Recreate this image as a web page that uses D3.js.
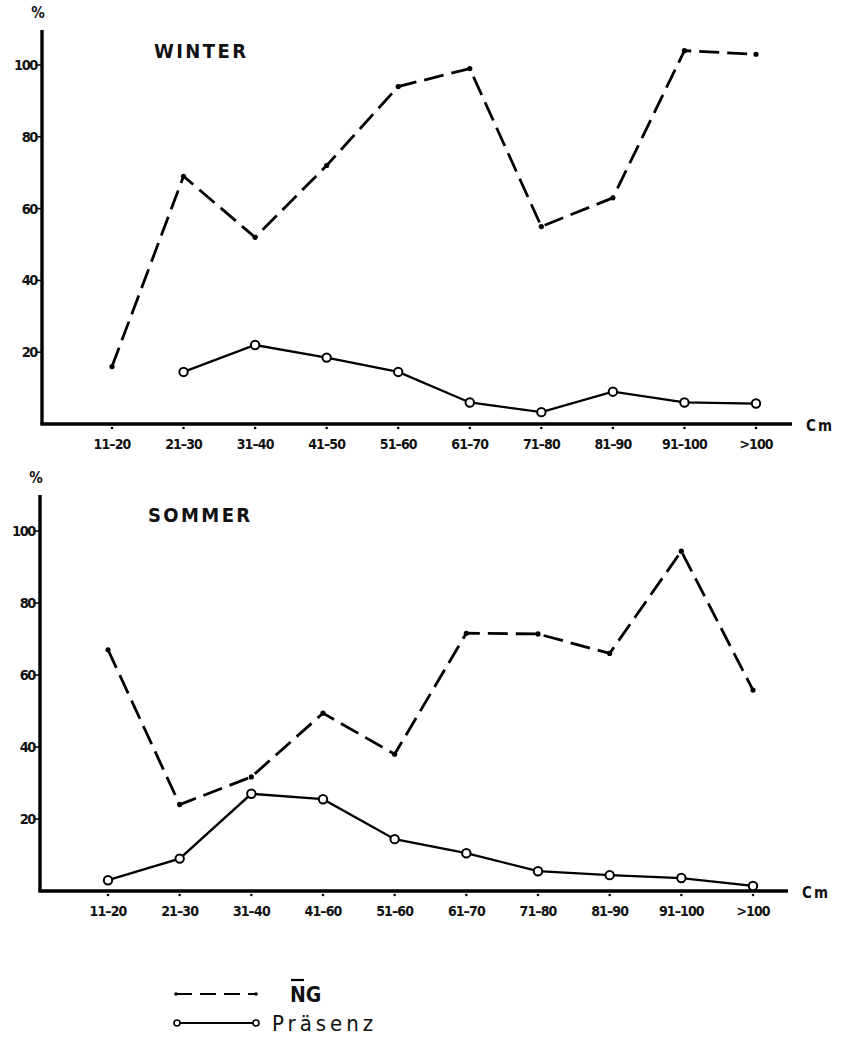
<!DOCTYPE html>
<html>
<head>
<meta charset="utf-8">
<script src="https://d3js.org/d3.v7.min.js"></script>
<style>
  body { margin: 0; background: #fff; }
  text { font-family: "DejaVu Sans Condensed", "DejaVu Sans", sans-serif; fill: #111; }
</style>
</head>
<body>
<svg width="841" height="1048"></svg>
<script>
// Kategorien (Durchmesserklassen)
var categories = ["11–20","21–30","31–40","41–50","51–60","61–70","71–80","81–90","91–100",">100"];
var winterLabels = ["11–20","21–30","31–40","41–50","51–60","61–70","71–80","81–90","91–100",">100"];
var sommerLabels = ["11–20","21–30","31–40","41–60","51–60","61–70","71–80","81–90","91–100",">100"];
var yTicks = [20, 40, 60, 80, 100];

// Werte in %
var winterNG       = [16, 69, 52, 72, 94, 99, 55, 63, 104, 103];
var winterPraesenz = [null, 14.5, 22, 18.5, 14.5, 6, 3.3, 9, 6, 5.7];
var sommerNG       = [67, 24, 31.7, 49.4, 38, 71.6, 71.4, 66, 94.4, 55.8];
var sommerPraesenz = [3, 9, 27, 25.5, 14.4, 10.5, 5.5, 4.4, 3.6, 1.4];

var svg = d3.select("svg");

function panel(cfg) {
  var g = svg.append("g");
  var x = d3.scalePoint().domain(categories).range([cfg.x0, cfg.x1]);
  var y = d3.scaleLinear().domain([0, 100]).range([cfg.yZero, cfg.y100]);

  // y-Achse
  g.append("line").attr("x1", cfg.ax).attr("x2", cfg.ax)
    .attr("y1", cfg.yZero + 1).attr("y2", cfg.yTop)
    .attr("stroke", "#000").attr("stroke-width", 3.4);
  // x-Achse
  g.append("line").attr("x1", cfg.ax - 1.5).attr("x2", cfg.axEnd)
    .attr("y1", cfg.yZero).attr("y2", cfg.yZero)
    .attr("stroke", "#000").attr("stroke-width", 3.4);

  // y ticks
  yTicks.forEach(function(t) {
    g.append("line").attr("x1", cfg.ax - 5).attr("x2", cfg.ax)
      .attr("y1", y(t)).attr("y2", y(t)).attr("stroke", "#000").attr("stroke-width", 1.5);
    g.append("text").attr("x", cfg.ax - 5).attr("y", y(t) + 5)
      .attr("text-anchor", "end").attr("font-size", 14.5).attr("font-weight", "bold")
      .attr("letter-spacing", -1.4).text(t);
  });
  g.append("text").attr("x", cfg.ax - 4).attr("y", cfg.yTop - 12)
    .attr("text-anchor", "middle").attr("font-size", 15).attr("font-weight", "bold").text("%");

  // x ticks und Beschriftung
  categories.forEach(function(c, i) {
    g.append("circle").attr("cx", x(c)).attr("cy", cfg.yZero + 4).attr("r", 1.3).attr("fill", "#000");
    g.append("text").attr("x", x(c)).attr("y", cfg.yZero + 25)
      .attr("text-anchor", "middle").attr("font-size", 14).attr("font-weight", "bold")
      .attr("letter-spacing", -0.9).text(cfg.labels[i]);
  });
  g.append("text").attr("x", cfg.axEnd + 14).attr("y", cfg.yZero + 7)
    .attr("font-size", 15).attr("font-weight", "bold").attr("letter-spacing", 2).text("Cm");

  // Titel
  g.append("text").attr("x", cfg.tx).attr("y", cfg.ty)
    .attr("font-size", 20).attr("font-weight", "bold").attr("letter-spacing", 2.4)
    .attr("font-family", "DejaVu Sans").text(cfg.title);

  var line = d3.line()
    .defined(function(d) { return d != null; })
    .x(function(d, i) { return x(categories[i]); })
    .y(function(d) { return y(d); });

  // NG (gestrichelt)
  g.append("path").datum(cfg.ng).attr("d", line)
    .attr("fill", "none").attr("stroke", "#000").attr("stroke-width", 2.8)
    .attr("stroke-dasharray", "20,8");
  g.selectAll(".ngpt").data(cfg.ng).enter().append("circle")
    .attr("cx", function(d, i) { return x(categories[i]); })
    .attr("cy", function(d) { return y(d); })
    .attr("r", 2.6).attr("fill", "#000");

  // Präsenz (durchgezogen mit Kreisen)
  g.append("path").datum(cfg.pr).attr("d", line)
    .attr("fill", "none").attr("stroke", "#000").attr("stroke-width", 2.3);
  g.selectAll(".prpt").data(cfg.pr.map(function(d, i) { return {v: d, i: i}; })
      .filter(function(d) { return d.v != null; }))
    .enter().append("circle")
    .attr("cx", function(d) { return x(categories[d.i]); })
    .attr("cy", function(d) { return y(d.v); })
    .attr("r", 4.2).attr("fill", "#fff").attr("stroke", "#000").attr("stroke-width", 2);
}

panel({ ax: 42, x0: 112, x1: 756, axEnd: 792, yZero: 424, y100: 65, yTop: 30,
        labels: winterLabels, title: "WINTER", tx: 154, ty: 58,
        ng: winterNG, pr: winterPraesenz });

panel({ ax: 40, x0: 108, x1: 753, axEnd: 788, yZero: 891, y100: 531, yTop: 495,
        labels: sommerLabels, title: "SOMMER", tx: 148, ty: 522,
        ng: sommerNG, pr: sommerPraesenz });

// Legende
var lg = svg.append("g");
lg.append("line").attr("x1", 176).attr("x2", 256).attr("y1", 994).attr("y2", 994)
  .attr("stroke", "#000").attr("stroke-width", 2).attr("stroke-dasharray", "16,8");
lg.append("circle").attr("cx", 176).attr("cy", 994).attr("r", 1.8).attr("fill", "#000");
lg.append("circle").attr("cx", 256).attr("cy", 994).attr("r", 1.8).attr("fill", "#000");
lg.append("text").attr("x", 290).attr("y", 1002).attr("font-size", 21).attr("font-weight", "bold")
  .attr("font-family", "DejaVu Sans Mono").text("NG");
lg.append("line").attr("x1", 291).attr("x2", 304).attr("y1", 980).attr("y2", 980)
  .attr("stroke", "#000").attr("stroke-width", 2.2);

lg.append("line").attr("x1", 177).attr("x2", 254).attr("y1", 1023).attr("y2", 1023)
  .attr("stroke", "#000").attr("stroke-width", 2);
lg.append("circle").attr("cx", 177).attr("cy", 1023).attr("r", 3).attr("fill", "#fff")
  .attr("stroke", "#000").attr("stroke-width", 1.6);
lg.append("circle").attr("cx", 256).attr("cy", 1023).attr("r", 3).attr("fill", "#fff")
  .attr("stroke", "#000").attr("stroke-width", 1.6);
lg.append("text").attr("x", 272).attr("y", 1031).attr("font-size", 22)
  .attr("font-family", "DejaVu Sans Mono").attr("letter-spacing", 4).text("Präsenz");
</script>
</body>
</html>
